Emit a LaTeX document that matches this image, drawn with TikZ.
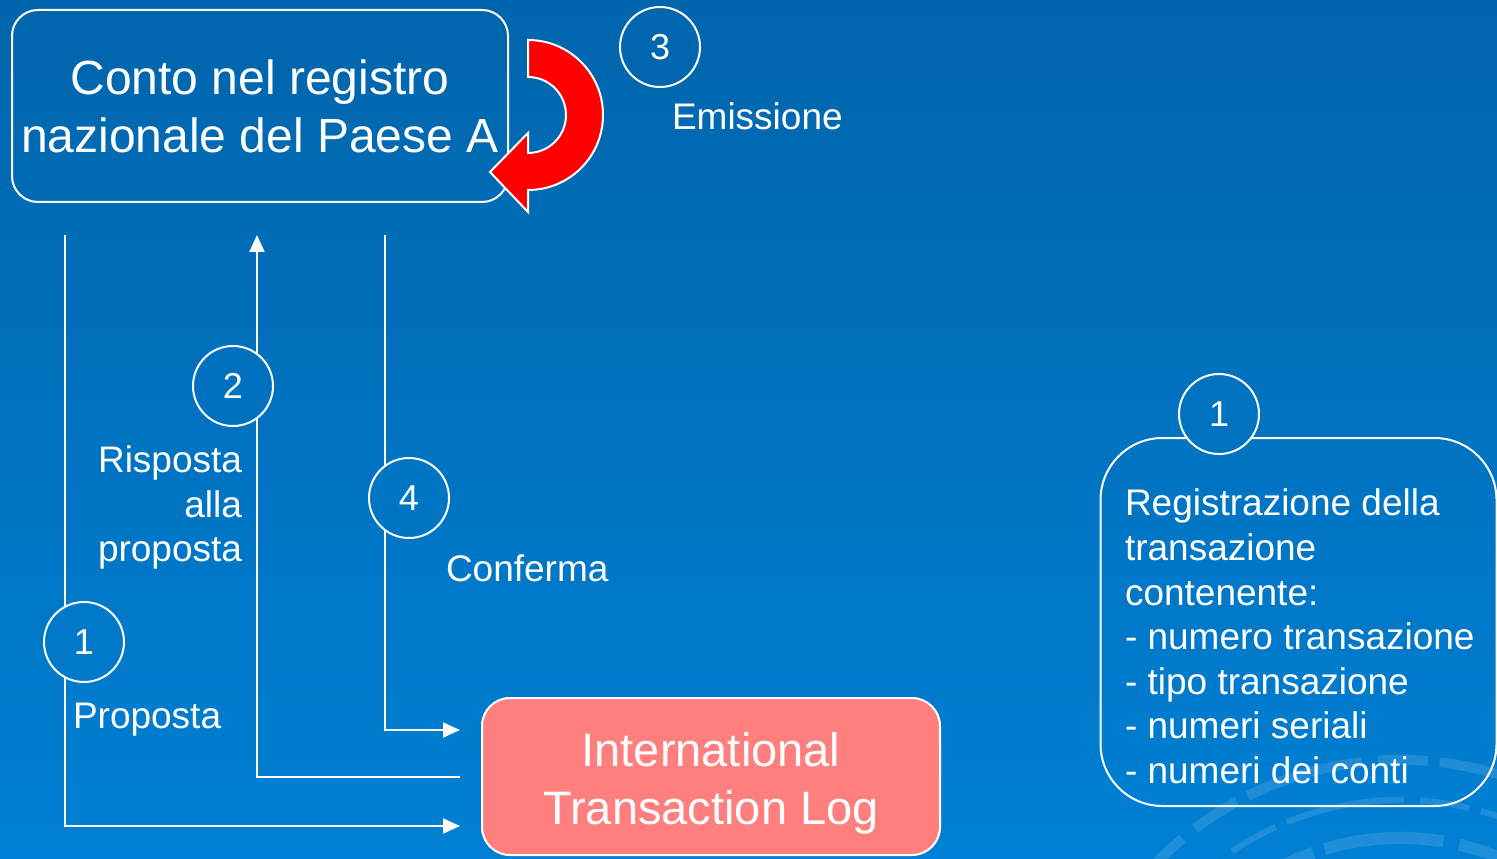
\documentclass[tikz,border=0pt]{standalone}
\usepackage{fontspec}
\setmainfont{Liberation Sans}
\usetikzlibrary{arrows.meta}
\definecolor{bgtop}{RGB}{0,101,172}
\definecolor{bgbot}{RGB}{0,128,212}
\definecolor{itlred}{RGB}{255,127,127}
\definecolor{turnred}{RGB}{255,0,0}
\tikzset{
  flow/.style={white,line width=1pt},
  flowarrow/.style={flow,-{Triangle[length=8.5pt,width=7.5pt]}},
  stepnum/.style={circle,draw=white,line width=1pt,fill=bgbot!#1!bgtop,minimum size=40pt,
    inner sep=0pt,text=white,font=\fontsize{18}{22}\selectfont},
  lbl/.style={text=white,inner sep=0pt,font=\fontsize{18.5}{22.3}\selectfont},
  bigbox/.style={draw=white,line width=1pt,text=white,align=center,font=\fontsize{24}{29}\selectfont}
}
\begin{document}
\begin{tikzpicture}[x=.5pt,y=.5pt]
\pgfsetlinewidth{1pt}
% sfondo
\fill[top color=bgtop,bottom color=bgbot] (0,0) rectangle (1497,858);
\useasboundingbox (0,0) rectangle (1497,858);
\begin{scope}
\clip (0,0) rectangle (1497,858);
\foreach \r/\w in {340/5pt,300/3pt,262/6pt,225/3pt}
  \draw[white,opacity=.12,line width=\w,dash pattern=on 60pt off 8pt on 25pt off 6pt] (1400,-242) ++(150:\r) arc (150:30:\r);
\end{scope}
% registro nazionale
\node[bigbox,rounded corners=13pt,minimum width=248pt,minimum height=96pt] (conto) at (260,752)
  {Conto nel registro\\nazionale del Paese A};
% ITL
\node[bigbox,fill=itlred,rounded corners=14pt,minimum width=229pt,minimum height=78.5pt] (itl) at (711,81.5) {};
\node[text=white,align=center,inner sep=0pt,font=\fontsize{23.5}{29}\selectfont] (itltext) at (711,75)
  {International\\Transaction Log};
% emissione
\draw[white,fill=turnred] (528,818) arc (90:-90:75) -- (528,646) -- (490,686) -- (528,725)
  -- (528,705) arc (-90:90:38) -- cycle;
% collegamenti
\coordinate (propA) at (65,623);
\coordinate (propB) at (460,32);
\coordinate (rispA) at (460,81);
\coordinate (rispB) at (257,623);
\coordinate (confA) at (385,623);
\coordinate (confB) at (460,128);
\draw[flowarrow] (propA) |- (propB);
\draw[flowarrow] (rispA) -| (rispB);
\draw[flowarrow] (confA) |- (confB);
% riquadro registrazione
\node[draw=white,line width=1pt,rounded corners=31pt,minimum width=198pt,minimum height=184pt] (reg) at (1298.5,236) {};
\node[lbl,anchor=west,align=left] (regtext) at (1124,221.5)
  {Registrazione della\\transazione\\contenente:\\- numero transazione\\- tipo transazione\\- numeri seriali\\- numeri dei conti};
% passi
\node[stepnum=5] (n3) at (660,811) {3};
\node[stepnum=45] (n2) at (233,472) {2};
\node[stepnum=58] (n4) at (409,360) {4};
\node[stepnum=75] (n1) at (84,216) {1};
\node[stepnum=48] (n1r) at (1219,444) {1};
% etichette
\node[lbl,anchor=base west] (emis) at (671,728) {Emissione};
\node[lbl,anchor=base west] (conf) at (445,277) {Conferma};
\node[lbl,anchor=base west] (prop) at (72,130) {Proposta};
\node[lbl,anchor=east,align=right] (risp) at (243,350.5) {Risposta\\alla\\proposta};
\end{tikzpicture}
\end{document}
